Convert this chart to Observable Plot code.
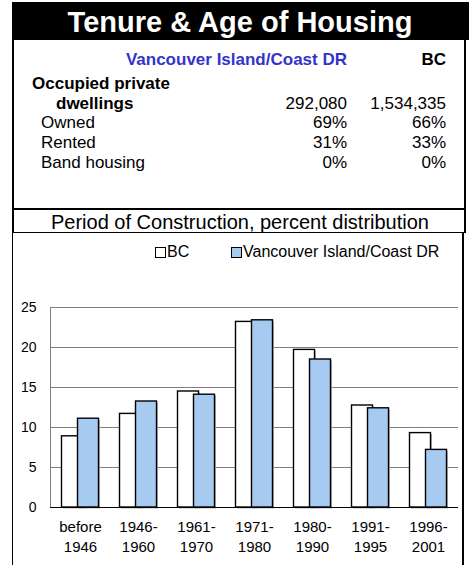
<!DOCTYPE html>
<html>
<head>
<meta charset="utf-8">
<script src="https://cdn.jsdelivr.net/npm/d3@7"></script>
<script src="https://cdn.jsdelivr.net/npm/@observablehq/plot@0.6"></script>
<style>
  html, body { margin: 0; padding: 0; background: #fff; }
  #page { position: relative; width: 469px; height: 565px; overflow: hidden; font-family: "Liberation Sans", Arial, sans-serif; color: #000; }
  .abs { position: absolute; white-space: nowrap; line-height: 1; }
  .box { position: absolute; box-sizing: border-box; }
</style>
</head>
<body>
<div id="page"></div>
<script>
// ---- data ----
const title = "Tenure & Age of Housing";
const regionName = "Vancouver Island/Coast DR";
const otherName = "BC";
const rowLabels = ["Occupied private", "dwellings", "Owned", "Rented", "Band housing"];
const regionCol = ["", "292,080", "69%", "31%", "0%"];
const bcCol = ["", "1,534,335", "66%", "33%", "0%"];
const chartTitle = "Period of Construction, percent distribution";
const periods = ["before\n1946", "1946-\n1960", "1961-\n1970", "1971-\n1980", "1980-\n1990", "1991-\n1995", "1996-\n2001"];
const bcValues = [8.9, 11.7, 14.5, 23.2, 19.7, 12.75, 9.3];
const regionValues = [11.1, 13.25, 14.1, 23.4, 18.5, 12.4, 7.2];
const yTicks = [0, 5, 10, 15, 20, 25];
const blue = "#a6caf0";

const page = document.getElementById("page");
function txt(s, {x, right, center, base, size, bold, color}) {
  const d = document.createElement("div");
  d.className = "abs";
  d.textContent = s;
  d.style.fontSize = size + "px";
  d.style.top = (base - 0.8465 * size) + "px";
  if (bold) d.style.fontWeight = "bold";
  if (color) d.style.color = color;
  if (x != null) d.style.left = x + "px";
  if (right != null) d.style.right = (469 - right) + "px";
  if (center != null) { d.style.left = (center - 300) + "px"; d.style.width = "600px"; d.style.textAlign = "center"; }
  page.appendChild(d);
  return d;
}
function box(l, t, w, h, css) {
  const d = document.createElement("div");
  d.className = "box";
  d.style.left = l + "px"; d.style.top = t + "px"; d.style.width = w + "px"; d.style.height = h + "px";
  Object.assign(d.style, css);
  page.appendChild(d);
  return d;
}

// ---- chart (drawn first, borders over it) ----
const data = [];
periods.forEach((p, i) => data.push({period: p, series: otherName, value: bcValues[i]}));
periods.forEach((p, i) => data.push({period: p, series: regionName, value: regionValues[i]}));
const bcData = data.filter(d => d.series === otherName);
const viData = data.filter(d => d.series === regionName);

const inset = 18.5;
const chart = Plot.plot({
  width: 469,
  height: 332,
  marginLeft: 50,
  marginRight: 11,
  marginTop: 74,
  marginBottom: 58,
  style: {fontFamily: "Liberation Sans, Arial, sans-serif", background: "transparent", overflow: "visible"},
  x: {type: "band", domain: periods, padding: 0, label: null},
  y: {domain: [0, 25], ticks: yTicks, label: null},
  marks: [
    Plot.ruleY(yTicks.filter(t => t > 0), {y: d => d, stroke: "#7f7f7f", strokeWidth: 1}),
    Plot.frame({anchor: "left", stroke: "#7f7f7f", strokeWidth: 1}),
    Plot.barY(bcData, {x: "period", y: "value", fill: "#b5b5b5", insetLeft: inset, insetRight: inset, dx: -8 + 1.5, dy: 1.5}),
    Plot.barY(viData, {x: "period", y: "value", fill: "#b5b5b5", insetLeft: inset, insetRight: inset, dx: 8 + 1.5, dy: 1.5}),
    Plot.barY(bcData, {x: "period", y: "value", fill: "#fff", stroke: "#000", strokeWidth: 1.4, insetLeft: inset, insetRight: inset, dx: -8}),
    Plot.barY(viData, {x: "period", y: "value", fill: blue, stroke: "#000", strokeWidth: 1.4, insetLeft: inset, insetRight: inset, dx: 8}),
    Plot.ruleY([0], {stroke: "#000", strokeWidth: 1}),
    Plot.axisY({ticks: yTicks, tickSize: 0, tickPadding: 14, fontSize: 14, fill: "#000", label: null}),
    Plot.axisX({tickSize: 0, tickPadding: 10, fontSize: 15, lineHeight: 1.333, fill: "#000", label: null})
  ]
});
chart.style.position = "absolute";
chart.style.left = "0px";
chart.style.top = "233px";
page.appendChild(chart);

// ---- boxes ----
box(12, 2, 457, 38, {background: "#000"});
box(12, 40, 454, 170, {borderLeft: "2px solid #000", borderRight: "2px solid #000", borderBottom: "2px solid #000"});
box(12, 210, 454, 23, {borderLeft: "2px solid #000", borderRight: "2px solid #000", borderBottom: "1px solid #000"});
box(12, 233, 452, 340, {borderLeft: "1.5px solid #000", borderRight: "2px solid #000"});

// ---- texts ----
txt(title, {center: 240, base: 32.3, size: 29, bold: true, color: "#fff"});
txt(regionName, {right: 347, base: 65, size: 17, bold: true, color: "#3333cc"});
txt(otherName, {right: 446, base: 65, size: 17, bold: true});
const rowBase = [89.3, 109.3, 128.8, 148.8, 168.8];
const rowX = [32, 56, 41, 41, 41];
rowLabels.forEach((s, i) => {
  txt(s, {x: rowX[i], base: rowBase[i], size: 17, bold: i < 2});
  if (regionCol[i]) txt(regionCol[i], {right: 347, base: rowBase[i], size: 17});
  if (bcCol[i]) txt(bcCol[i], {right: 446, base: rowBase[i], size: 17});
});
txt(chartTitle, {center: 240, base: 229.3, size: 20});

// ---- legend ----
box(155, 247, 10.5, 10.5, {border: "1.5px solid #000", background: "#fff"});
txt(otherName, {x: 167, base: 257.3, size: 16});
box(231, 247, 10.5, 10.5, {border: "1.5px solid #000", background: blue});
txt(regionName, {x: 243, base: 257.3, size: 16});
</script>
</body>
</html>
